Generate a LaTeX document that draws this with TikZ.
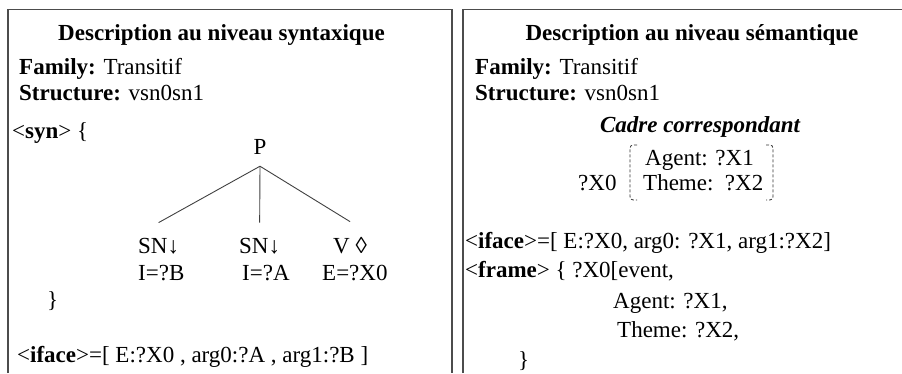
\documentclass[tikz,border=0pt]{standalone}
\usepackage{fontspec}
\setmainfont{Liberation Serif}

\begin{document}
\begin{tikzpicture}[x=1pt,y=-1pt,
  every node/.style={inner sep=0pt, font=\fontsize{23}{27}\selectfont},
  txt/.style={anchor=base west},
  title/.style={anchor=base, font=\fontsize{23}{27}\selectfont\bfseries},
  treetop/.style={anchor=base, inner ysep=12pt},
  treeleaf/.style={anchor=base west, inner ysep=15pt},
  panel/.style={draw=black!70, line width=1.3pt},
  branch/.style={draw=black!75, line width=0.9pt},
  slot/.style={draw=black!80, line width=0.8pt, dash pattern=on 3pt off 2pt}]
\useasboundingbox (0,0) rectangle (902,373);

% syntactic description
\draw[panel] (8,373) -- (8,9.5) -- (452,9.5) -- (452,373);
\node[title] (syntitle) at (221.5,40) {Description au niveau syntaxique};
\node[txt] (synfam) at (19,74) {\textbf{Family:} Transitif};
\node[txt] (synstruct) at (19,100.5) {\textbf{Structure:} vsn0sn1};
\node[txt] (synopen) at (12,138) {<\textbf{syn}> \{};

% tree
\node[treetop] (p) at (260,154) {P};
\node[treeleaf] (sn0) at (138,253) {SN↓};
\node[txt] (ib) at (138,280) {I=?B};
\node[treeleaf] (sn1) at (239,253) {SN↓};
\node[txt] (ia) at (242,280) {I=?A};
\node[treeleaf] (v) at (333,253) {V ◊};
\node[txt] (ex) at (322,280) {E=?X0};
\foreach \leaf in {sn0,sn1,v}
  \draw[branch] (p.south) -- (\leaf.north);

\node[txt] (synclose) at (47,307) {\}};
\node[txt] (syniface) at (17,362) {<\textbf{iface}>=[ E:?X0 , arg0:?A , arg1:?B ]};

% semantic description
\draw[panel] (463,373) -- (463,9.5) -- (903,9.5);
\node[title] (semtitle) at (692,40) {Description au niveau sémantique};
\node[txt] (semfam) at (475,74) {\textbf{Family:} Transitif};
\node[txt] (semstruct) at (475,100.5) {\textbf{Structure:} vsn0sn1};
\node[title, font=\fontsize{23}{27}\selectfont\bfseries\itshape] (cadre) at (700,132) {Cadre correspondant};

% frame
\node[txt] (agent) at (645,165) {Agent: ?X1};
\node[txt] (theme) at (643,190) {Theme:\ \ ?X2};
\node[txt] (x0) at (578,190) {?X0};
\draw[slot] (637,145) .. controls (630,145) .. (630,152) -- (630,193) .. controls (630,200) .. (637,200);
\draw[slot] (766,145) .. controls (773,145) .. (773,152) -- (773,193) .. controls (773,200) .. (766,200);

\node[txt] (semiface) at (465,248) {<\textbf{iface}>=[ E:?X0, arg0: ?X1, arg1:?X2]};
\node[txt] (frame) at (465,277) {<\textbf{frame}> \{ ?X0[event,};
\node[txt] (fagent) at (613,308) {Agent: ?X1,};
\node[txt] (ftheme) at (617,337) {Theme: ?X2,};
\node[txt] (fclose) at (518,367) {\}};
\end{tikzpicture}
\end{document}
